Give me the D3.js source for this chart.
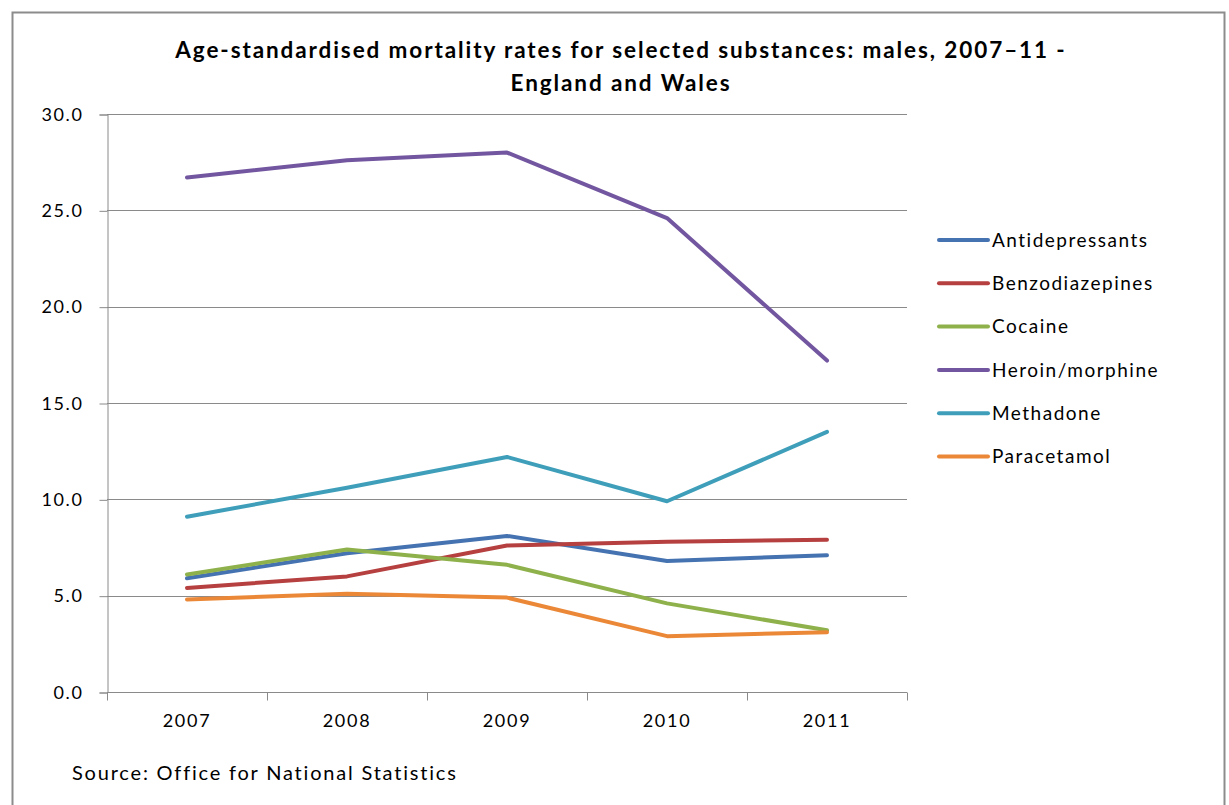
<!DOCTYPE html>
<html>
<head>
<meta charset="utf-8">
<script src="https://cdn.jsdelivr.net/npm/d3@7"></script>
<style>
  html, body { margin: 0; padding: 0; background: #fff; }
  svg { display: block; font-family: Lato, "Open Sans", sans-serif; }
</style>
</head>
<body>
<svg id="chart" width="1229" height="805"></svg>
<script>
// Age-standardised mortality rates per million, males, England and Wales
const years = ["2007", "2008", "2009", "2010", "2011"];
const seriesNames = ["Antidepressants", "Benzodiazepines", "Cocaine", "Heroin/morphine", "Methadone", "Paracetamol"];
const antidepressants = [5.9, 7.2, 8.1, 6.8, 7.1];
const benzodiazepines = [5.4, 6.0, 7.6, 7.8, 7.9];
const cocaine         = [6.1, 7.4, 6.6, 4.6, 3.2];
const heroinMorphine  = [26.7, 27.6, 28.0, 24.6, 17.2];
const methadone       = [9.1, 10.6, 12.2, 9.9, 13.5];
const paracetamol     = [4.8, 5.1, 4.9, 2.9, 3.1];
const yTicks = [0, 5, 10, 15, 20, 25, 30];
const colors = ["#4572b0", "#b5403f", "#8fb14c", "#7356a0", "#3f9fba", "#eb8838"];

const values = [antidepressants, benzodiazepines, cocaine, heroinMorphine, methadone, paracetamol];
const series = seriesNames.map((name, i) => ({ name, color: colors[i], values: values[i] }));

const svg = d3.select("#chart");

// Outer chart frame
svg.append("rect")
  .attr("x", 12.5).attr("y", 12.5).attr("width", 1212).attr("height", 820)
  .attr("fill", "#fff").attr("stroke", "#8c8c8c").attr("stroke-width", 2);

const plot = { left: 107, right: 907, top: 114, bottom: 692 };

const x = d3.scaleBand().domain(years).range([plot.left, plot.right]);
const y = d3.scaleLinear().domain([0, 30]).range([plot.bottom, plot.top]);

// Horizontal gridlines
svg.append("g")
  .selectAll("line")
  .data(yTicks.filter(t => t > 0))
  .join("line")
  .attr("x1", plot.left).attr("x2", plot.right)
  .attr("y1", d => Math.round(y(d)) + 0.5).attr("y2", d => Math.round(y(d)) + 0.5)
  .attr("stroke", "#8a8a8a").attr("stroke-width", 1);

// Y axis
const yAxis = svg.append("g")
  .attr("transform", `translate(${plot.left + 0.5},0.5)`)
  .call(d3.axisLeft(y).tickValues(yTicks).tickFormat(d3.format(".1f")).tickSize(8).tickPadding(16));
yAxis.select(".domain").attr("stroke", "#8a8a8a");
yAxis.selectAll(".tick line").attr("stroke", "#8a8a8a");
yAxis.selectAll(".tick text")
  .attr("font-family", "Lato, 'Open Sans', sans-serif")
  .attr("font-size", 18).attr("letter-spacing", 1.6).attr("fill", "#000");

// X axis with ticks between categories
const xAxis = svg.append("g")
  .attr("transform", `translate(0,${plot.bottom + 0.5})`)
  .call(d3.axisBottom(x).tickSize(0).tickPadding(22));
xAxis.select(".domain").attr("stroke", "#8a8a8a").attr("d", `M${plot.left},0H${plot.right}`);
xAxis.selectAll(".tick text")
  .attr("font-family", "Lato, 'Open Sans', sans-serif")
  .attr("font-size", 18).attr("letter-spacing", 1.7).attr("fill", "#000");
xAxis.append("g")
  .selectAll("line")
  .data(years.map(d => x(d)).concat([plot.right]))
  .join("line")
  .attr("x1", d => Math.round(d) + 0.5).attr("x2", d => Math.round(d) + 0.5)
  .attr("y1", 0).attr("y2", 8)
  .attr("stroke", "#8a8a8a");

// Series lines
const line = d3.line()
  .x((d, i) => x(years[i]) + x.bandwidth() / 2)
  .y(d => y(d));

svg.append("g")
  .selectAll("path")
  .data(series)
  .join("path")
  .attr("d", d => line(d.values))
  .attr("fill", "none")
  .attr("stroke", d => d.color)
  .attr("stroke-width", 4)
  .attr("stroke-linejoin", "round")
  .attr("stroke-linecap", "round");

// Legend
const legend = svg.append("g").attr("transform", "translate(938,240)");
const rows = legend.selectAll("g")
  .data(series)
  .join("g")
  .attr("transform", (d, i) => `translate(0,${i * 43.3})`);
rows.append("line")
  .attr("x1", 1).attr("x2", 50).attr("y1", 0).attr("y2", 0)
  .attr("stroke", d => d.color).attr("stroke-width", 4).attr("stroke-linecap", "round");
rows.append("text")
  .attr("x", 54).attr("y", 0).attr("dy", "0.35em")
  .attr("font-size", 19).attr("letter-spacing", 1.5).attr("fill", "#000")
  .text(d => d.name);

// Title
const title = svg.append("text")
  .attr("x", 620).attr("text-anchor", "middle")
  .attr("font-size", 22.5).attr("font-weight", "bold").attr("letter-spacing", 1.9).attr("fill", "#000");
title.append("tspan").attr("x", 621).attr("y", 58)
  .text("Age-standardised mortality rates for selected substances: males, 2007–11 -");
title.append("tspan").attr("x", 621).attr("y", 91)
  .text("England and Wales");

// Source note
svg.append("text")
  .attr("x", 72).attr("y", 780)
  .attr("font-size", 20).attr("letter-spacing", 1.8).attr("fill", "#000")
  .text("Source: Office for National Statistics");
</script>
</body>
</html>
